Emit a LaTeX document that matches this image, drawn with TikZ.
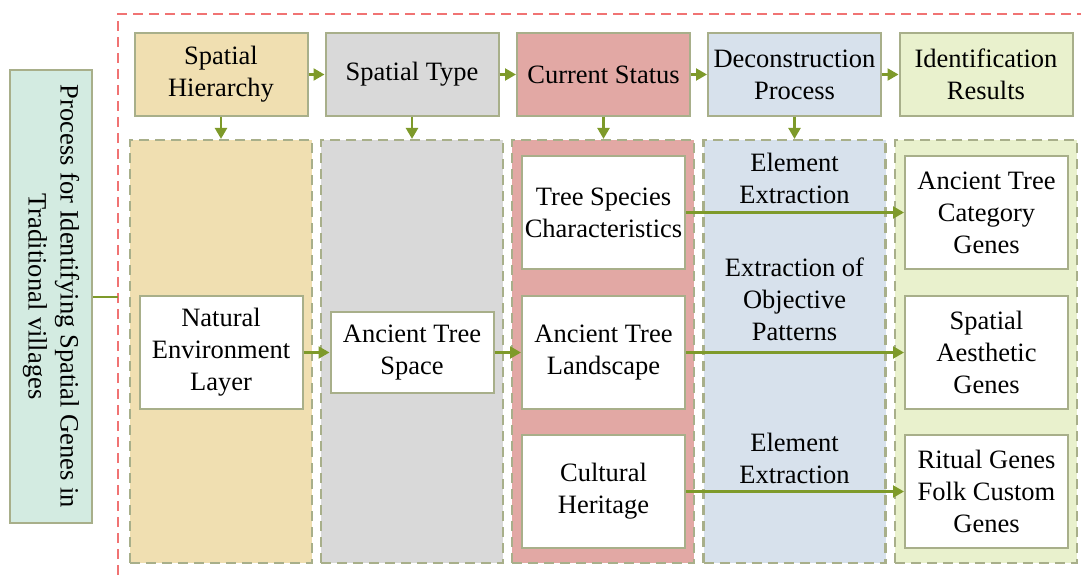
\documentclass[tikz,border=0pt]{standalone}
\usepackage{fontspec}
\setmainfont{Liberation Serif}
\usetikzlibrary{arrows.meta}
\definecolor{bord}{HTML}{A8AF8A}
\definecolor{arr}{HTML}{7E9A2A}
\definecolor{reddash}{HTML}{F07373}
\definecolor{cyel}{HTML}{F0DFB1}
\definecolor{cgray}{HTML}{D9D9D9}
\definecolor{cred}{HTML}{E2A8A4}
\definecolor{cblue}{HTML}{D7E1EC}
\definecolor{cgreen}{HTML}{E9F1CD}
\definecolor{cteal}{HTML}{D3EBE1}
\tikzset{
  txt/.style={font=\fontsize{26.5}{32}\selectfont, align=center},
  hdr/.style={txt, draw=bord, line width=2pt, minimum width=173pt, minimum height=83pt, inner sep=0pt},
  col/.style={draw=bord, line width=2.2pt, dash pattern=on 10pt off 6pt, minimum width=182pt, minimum height=423pt, inner sep=0pt},
  wbox/.style={txt, draw=bord, fill=white, line width=2pt, minimum width=163pt, minimum height=113pt, inner sep=0pt},
  lbl/.style={txt, inner sep=0pt},
  arrv/.style={draw=arr, line width=2.5pt, -{Triangle[length=11pt,width=12pt]}},
  arrh/.style={draw=arr, line width=2.2pt, -{Triangle[length=11pt,width=12pt]}},
}
\begin{document}
\begin{tikzpicture}[x=1pt,y=-1pt]
\useasboundingbox (0,0) rectangle (1081,575);
% red dashed frame
\draw[reddash, line width=2pt, dash pattern=on 10pt off 6pt] (118,575) -- (118,14) -- (1081,14);
% left box
\node[draw=bord, fill=cteal, line width=2pt, minimum width=82pt, minimum height=453pt, inner sep=0pt] (left) at (51,296.5) {};
\node[txt, rotate=-90] (lefttxt) at (51,296.5) {Process for Identifying Spatial Genes in\\Traditional villages};
\coordinate (rl) at (118,297);
\draw[draw=arr, line width=2.2pt] (left.east |- rl) -- (rl);
% columns
\node[col, fill=cyel] (c1) at (221,351.5) {};
\node[col, fill=cgray] (c2) at (412,351.5) {};
\node[col, fill=cred] (c3) at (603,351.5) {};
\node[col, fill=cblue] (c4) at (794.5,351.5) {};
\node[col, fill=cgreen] (c5) at (986,351.5) {};
% headers
\node[hdr, fill=cyel] (h1) at (221,74.5) {Spatial\\Hierarchy};
\node[hdr, fill=cgray] (h2) at (412,74.5) {Spatial Type};
\node[hdr, fill=cred] (h3) at (603.5,74.5) {Current Status};
\node[hdr, fill=cblue] (h4) at (794.5,74.5) {Deconstruction\\Process};
\node[hdr, fill=cgreen] (h5) at (986,74.5) {Identification\\Results};
\draw[arrh] (h1) -- (h2);
\draw[arrh] (h2) -- (h3);
\draw[arrh] (h3) -- (h4);
\draw[arrh] (h4) -- (h5);
\draw[arrv] (h1.south) -- (h1.south |- c1.north);
\draw[arrv] (h2.south) -- (h2.south |- c2.north);
\draw[arrv] (h3.south) -- (h3.south |- c3.north);
\draw[arrv] (h4.south) -- (h4.south |- c4.north);
% inner boxes
\node[wbox] (nat) at (221,352.5) {Natural\\Environment\\Layer};
\node[wbox, minimum height=81pt] (ats) at (412,352.5) {Ancient Tree\\Space};
\node[wbox] (tsc) at (603.5,212.5) {Tree Species\\Characteristics};
\node[wbox] (atl) at (603.5,352.5) {Ancient Tree\\Landscape};
\node[wbox] (cuh) at (603.5,491.5) {Cultural\\Heritage};
\node[wbox] (atc) at (986.5,212.5) {Ancient Tree\\Category\\Genes};
\node[wbox] (sag) at (986.5,352.5) {Spatial\\Aesthetic\\Genes};
\node[wbox] (rit) at (986.5,491.5) {Ritual Genes\\Folk Custom\\Genes};
% labels
\node[lbl] (l1) at (794.5,178) {Element\\Extraction};
\node[lbl] (l2) at (794.5,299) {Extraction of\\Objective\\Patterns};
\node[lbl] (l3) at (794.5,458) {Element\\Extraction};
% arrows
\draw[arrh] (nat) -- (ats);
\draw[arrh] (ats) -- (atl);
\draw[arrh] (tsc) -- (atc);
\draw[arrh] (atl) -- (sag);
\draw[arrh] (cuh) -- (rit);
\end{tikzpicture}
\end{document}
